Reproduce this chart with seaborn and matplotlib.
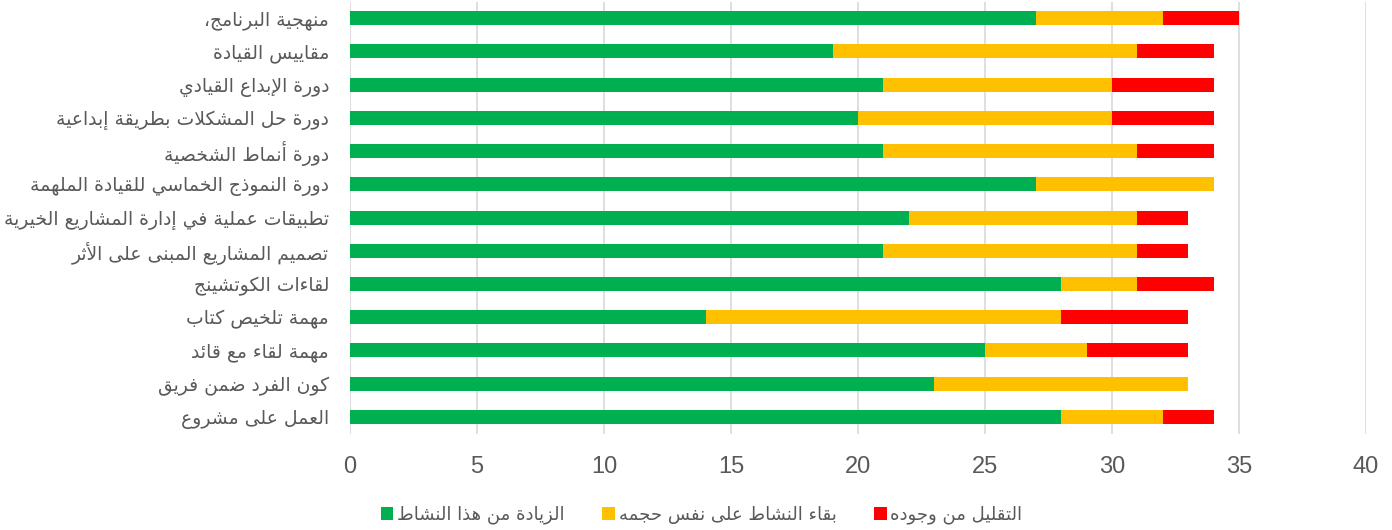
import numpy as np
import pandas as pd
import matplotlib
matplotlib.use("Agg")
import matplotlib.pyplot as plt
from matplotlib.patches import Patch
import seaborn as sns

# ---------------- data ----------------
categories = [
    "منهجية البرنامج،",
    "مقاييس القيادة",
    "دورة الإبداع القيادي",
    "دورة حل المشكلات بطريقة إبداعية",
    "دورة أنماط الشخصية",
    "دورة النموذج الخماسي للقيادة الملهمة",
    "تطبيقات عملية في إدارة المشاريع الخيرية",
    "تصميم المشاريع المبنى على الأثر",
    "لقاءات الكوتشينج",
    "مهمة تلخيص كتاب",
    "مهمة لقاء مع قائد",
    "كون الفرد ضمن فريق",
    "العمل على مشروع",
]
increase = [27, 19, 21, 20, 21, 27, 22, 21, 28, 14, 25, 23, 28]
same = [5, 12, 9, 10, 10, 7, 9, 10, 3, 14, 4, 10, 4]
decrease = [3, 3, 4, 4, 3, 0, 2, 2, 3, 5, 4, 0, 2]
series_names = ["الزيادة من هذا النشاط", "بقاء النشاط على نفس حجمه", "التقليل من وجوده"]
x_ticks = [0, 5, 10, 15, 20, 25, 30, 35, 40]

colors = ["#00B050", "#FFC000", "#FF0000"]

# ------------- minimal Arabic shaping (presentation forms + RTL order) -------------
DUAL = {'ئ': 0xFE89, 'ب': 0xFE8F, 'ت': 0xFE95, 'ث': 0xFE99, 'ج': 0xFE9D, 'ح': 0xFEA1,
        'خ': 0xFEA5, 'س': 0xFEB1, 'ش': 0xFEB5, 'ص': 0xFEB9, 'ض': 0xFEBD, 'ط': 0xFEC1,
        'ظ': 0xFEC5, 'ع': 0xFEC9, 'غ': 0xFECD, 'ف': 0xFED1, 'ق': 0xFED5, 'ك': 0xFED9,
        'ل': 0xFEDD, 'م': 0xFEE1, 'ن': 0xFEE5, 'ه': 0xFEE9, 'ي': 0xFEF1}
RIGHT = {'آ': 0xFE81, 'أ': 0xFE83, 'ؤ': 0xFE85, 'إ': 0xFE87, 'ا': 0xFE8D, 'ة': 0xFE93,
         'د': 0xFEA9, 'ذ': 0xFEAB, 'ر': 0xFEAD, 'ز': 0xFEAF, 'و': 0xFEED, 'ى': 0xFEEF}
LAMALEF = {'آ': 0xFEF5, 'أ': 0xFEF7, 'إ': 0xFEF9, 'ا': 0xFEFB}


def shape(text):
    toks = []
    i = 0
    while i < len(text):
        c = text[i]
        if c == 'ل' and i + 1 < len(text) and text[i + 1] in LAMALEF:
            toks.append(('LA', LAMALEF[text[i + 1]]))
            i += 2
            continue
        if c in DUAL:
            toks.append(('D', DUAL[c]))
        elif c in RIGHT:
            toks.append(('R', RIGHT[c]))
        else:
            toks.append(('N', c))
        i += 1
    out = []
    for k, (t, v) in enumerate(toks):
        if t == 'N':
            out.append(v)
            continue
        prev_t = toks[k - 1][0] if k > 0 else None
        next_t = toks[k + 1][0] if k + 1 < len(toks) else None
        jp = prev_t == 'D'
        jn = t == 'D' and next_t in ('D', 'R', 'LA')
        if jp and jn:
            off = 3
        elif jp:
            off = 1
        elif jn:
            off = 2
        else:
            off = 0
        out.append(chr(v + off))
    return "".join(out)[::-1]


df = pd.DataFrame({
    "category": categories,
    "increase": increase,
    "same": same,
    "decrease": decrease,
})
df["cum_green"] = df["increase"]
df["cum_yellow"] = df["increase"] + df["same"]
df["cum_red"] = df["cum_yellow"] + df["decrease"]

sns.set_theme(style="white")
plt.rcParams["font.family"] = ["Liberation Sans", "DejaVu Sans"]

fig = plt.figure(figsize=(13.92, 5.30), dpi=100)
ax = fig.add_axes([0.2514, 0.182, 0.7299, 0.815])

bw = 0.42
for col, c in zip(["cum_red", "cum_yellow", "cum_green"], colors[::-1]):
    sns.barplot(data=df, y="category", x=col, orient="h", color=c, width=bw,
                saturation=1, ax=ax, zorder=3, linewidth=0)

ax.set_xlim(0, 40)
ax.set_ylim(12.5, -0.5)
ax.set_xticks(x_ticks)
ax.set_xticklabels([str(t) for t in x_ticks])
ax.set_yticks(range(len(categories)))
ax.set_yticklabels([shape(c) for c in categories])
ax.set_xlabel("")
ax.set_ylabel("")
ax.grid(axis="x", color="#D9D9D9", linewidth=1.2, zorder=0)
ax.grid(axis="y", visible=False)
for s in ax.spines.values():
    s.set_visible(False)
ax.tick_params(axis="x", length=0, pad=16, labelsize=17, labelcolor="#595959")
ax.tick_params(axis="y", length=0, pad=15, labelsize=13.5, labelcolor="#595959")
for lab in ax.get_yticklabels():
    lab.set_family(["DejaVu Sans"])

handles = [Patch(facecolor=c, edgecolor="none") for c in colors]
fig.legend(handles, [shape(s) for s in series_names], loc="center",
           bbox_to_anchor=(0.504, 0.028), ncol=3, frameon=False,
           handlelength=0.7, handleheight=0.7, handletextpad=0.2,
           columnspacing=2.1, labelcolor="#595959",
           prop={"family": ["DejaVu Sans"], "size": 13})

fig.savefig("out.png", dpi=100)
